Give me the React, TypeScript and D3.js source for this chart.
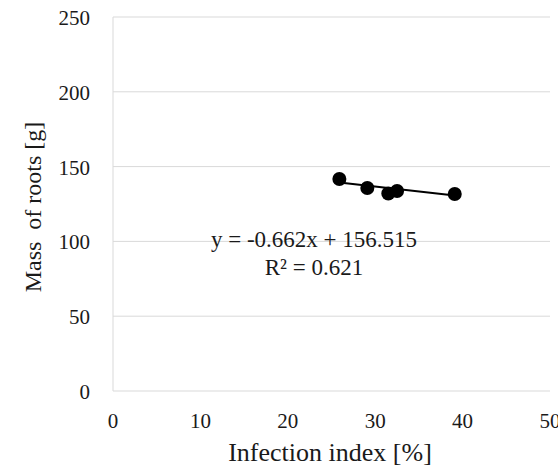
import React, { useEffect, useRef } from 'react';
import * as d3 from 'd3';

// infection index [%] and mass of roots [g]
const infectionIndex = [25.9, 29.1, 31.5, 32.5, 39.1];
const rootMass = [141.7, 135.7, 132.0, 133.7, 131.7];
const xTicks = [0, 10, 20, 30, 40, 50];
const yTicks = [0, 50, 100, 150, 200, 250];
// linear trendline as printed on the chart
const slope = -0.662;
const intercept = 156.515;
const equationLines = ['y = -0.662x + 156.515', 'R² = 0.621'];

const App = () => {
  const svgRef = useRef<SVGSVGElement>(null);

  useEffect(() => {
    if (!svgRef.current) return;
    const root = d3.select(svgRef.current);
    root.selectAll('*').remove();

    const width = 558;
    const height = 472;
    const margin = { top: 17, right: 8, bottom: 81, left: 113 };
    const font = '"Liberation Serif", "Times New Roman", serif';

    const x = d3.scaleLinear().domain([0, 50]).range([margin.left, width - margin.right]);
    const y = d3.scaleLinear().domain([0, 250]).range([height - margin.bottom, margin.top]);

    const svg = root.attr('width', width).attr('height', height);
    svg.append('rect').attr('width', width).attr('height', height).attr('fill', '#fff');

    // horizontal grid lines
    svg.append('g')
      .selectAll('line')
      .data(yTicks.filter(d => d > 0))
      .enter()
      .append('line')
      .attr('x1', x(0))
      .attr('x2', x(50))
      .attr('y1', d => y(d))
      .attr('y2', d => y(d))
      .attr('stroke', '#d9d9d9')
      .attr('stroke-width', 1);

    // axis lines
    svg.append('line')
      .attr('x1', x(0)).attr('x2', x(50))
      .attr('y1', y(0)).attr('y2', y(0))
      .attr('stroke', '#d9d9d9');
    svg.append('line')
      .attr('x1', x(0)).attr('x2', x(0))
      .attr('y1', y(0)).attr('y2', y(250))
      .attr('stroke', '#d9d9d9');

    // tick labels
    svg.append('g')
      .selectAll('text')
      .data(yTicks)
      .enter()
      .append('text')
      .attr('x', x(0) - 23)
      .attr('y', d => y(d) + 8)
      .attr('text-anchor', 'end')
      .style('font-family', font)
      .style('font-size', '21px')
      .attr('fill', '#1a1a1a')
      .text(d => d);

    svg.append('g')
      .selectAll('text')
      .data(xTicks)
      .enter()
      .append('text')
      .attr('x', d => x(d))
      .attr('y', y(0) + 37)
      .attr('text-anchor', 'middle')
      .style('font-family', font)
      .style('font-size', '21px')
      .attr('fill', '#1a1a1a')
      .text(d => d);

    // axis titles
    svg.append('text')
      .attr('x', 330)
      .attr('y', 461)
      .attr('text-anchor', 'middle')
      .style('font-family', font)
      .style('font-size', '26px')
      .attr('fill', '#1a1a1a')
      .text('Infection index [%]');

    svg.append('text')
      .attr('transform', 'translate(41, 207) rotate(-90)')
      .attr('text-anchor', 'middle')
      .style('font-family', font)
      .style('font-size', '24px')
      .style('white-space', 'pre')
      .attr('fill', '#1a1a1a')
      .text('Mass  of roots [g]');

    // trendline across the data range
    const [xMin, xMax] = d3.extent(infectionIndex) as [number, number];
    svg.append('line')
      .attr('x1', x(xMin))
      .attr('y1', y(slope * xMin + intercept))
      .attr('x2', x(xMax))
      .attr('y2', y(slope * xMax + intercept))
      .attr('stroke', '#000')
      .attr('stroke-width', 2);

    // points
    svg.append('g')
      .selectAll('circle')
      .data(infectionIndex)
      .enter()
      .append('circle')
      .attr('cx', d => x(d))
      .attr('cy', (d, i) => y(rootMass[i]))
      .attr('r', 7)
      .attr('fill', '#000');

    // equation label
    svg.append('g')
      .selectAll('text')
      .data(equationLines)
      .enter()
      .append('text')
      .attr('x', 314)
      .attr('y', (d, i) => 247 + i * 28)
      .attr('text-anchor', 'middle')
      .style('font-family', font)
      .style('font-size', '23px')
      .attr('fill', '#1a1a1a')
      .text(d => d);
  }, []);

  return <svg ref={svgRef} style={{ position: 'absolute', left: 0, top: 0 }}></svg>;
};

export default App;
